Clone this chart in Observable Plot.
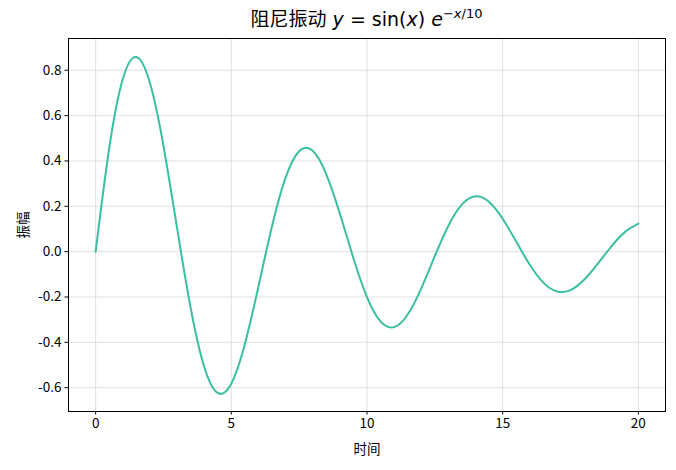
<!DOCTYPE html>
<html>
<head>
<meta charset="utf-8">
<script src="https://cdn.jsdelivr.net/npm/d3@7"></script>
<script src="https://cdn.jsdelivr.net/npm/@observablehq/plot@0.6"></script>
<style>
  html, body { margin: 0; padding: 0; background: #fff; }
  #wrap { position: relative; width: 676px; height: 470px; }
  #title { position: absolute; left: 68px; width: 597px; top: 4px; text-align: center;
           font-size: 19px; line-height: 28px; color: #000; white-space: nowrap; }
  #title .cjk { font-family: "Noto Sans CJK SC"; }
  #title .m { font-family: "DejaVu Sans"; }
  #title i { font-style: italic; }
  #title sup { font-size: 13px; vertical-align: 8px; line-height: 0; }
</style>
</head>
<body>
<div id="wrap">
  <div id="title"><span class="cjk">阻尼振动</span><span class="m"> <i>y</i> = sin(<i>x</i>) <i>e</i><sup>−<i>x</i>/10</sup></span></div>
</div>
<script>
const times = [0, 0.5, 1, 1.5, 2, 2.5, 3, 3.5, 4, 4.5, 5, 5.5, 6, 6.5, 7, 7.5, 8, 8.5, 9, 9.5,
  10, 10.5, 11, 11.5, 12, 12.5, 13, 13.5, 14, 14.5, 15, 15.5, 16, 16.5, 17, 17.5, 18, 18.5, 19, 19.5, 20];
const amplitude = [0, 0.45605, 0.76140, 0.85855, 0.74447, 0.46609, 0.10454, -0.24719, -0.50730, -0.62330,
  -0.58162, -0.40706, -0.15335, 0.11230, 0.32625, 0.44308, 0.44455, 0.34128, 0.16756, -0.02906,
  -0.20013, -0.30784, -0.33287, -0.27720, -0.16161, -0.01900, 0.11451, 0.20837, 0.24428, 0.21930,
  0.14510, 0.04385, -0.05813, -0.13676, -0.17563, -0.16954, -0.12414, -0.05385, 0.02242, 0.08615, 0.12356];
const xTicks = [0, 5, 10, 15, 20];
const yTicks = [-0.6, -0.4, -0.2, 0.0, 0.2, 0.4, 0.6, 0.8];

const data = times.map((t, i) => ({t, a: amplitude[i]}));

const chart = Plot.plot({
  width: 676,
  height: 470,
  marginLeft: 68,
  marginRight: 11,
  marginTop: 38,
  marginBottom: 59,
  style: {fontFamily: "Noto Sans CJK SC", fontSize: "13px", color: "#000", background: "#fff"},
  x: {domain: [-1, 21]},
  y: {domain: [-0.705, 0.94]},
  marks: [
    Plot.gridX(xTicks, {stroke: "#d8d8d8", strokeOpacity: 1, strokeWidth: 0.8}),
    Plot.gridY(yTicks, {stroke: "#d8d8d8", strokeOpacity: 1, strokeWidth: 0.8}),
    Plot.axisX(xTicks, {tickSize: 3.5, tickPadding: 3.5, fontSize: 13.5, tickFormat: d => String(d),
      label: "时间", labelAnchor: "center", labelArrow: "none", labelOffset: 42}),
    Plot.axisY(yTicks, {tickSize: 3.5, tickPadding: 3.5, fontSize: 13.5, tickFormat: d => d.toFixed(1),
      label: "振幅", labelAnchor: "center", labelArrow: "none", labelOffset: 50}),
    Plot.line(data, {x: "t", y: "a", stroke: "#3bbfa1", strokeWidth: 2, curve: "natural"}),
    Plot.frame({stroke: "#000", strokeWidth: 1})
  ]
});
document.getElementById("wrap").prepend(chart);
</script>
</body>
</html>
